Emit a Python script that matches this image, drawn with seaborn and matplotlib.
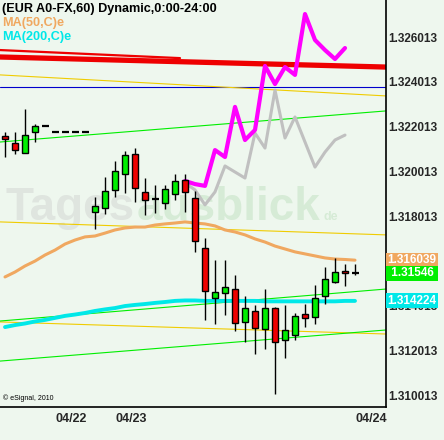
import matplotlib
matplotlib.use("Agg")
import matplotlib.pyplot as plt
import seaborn as sns

# hourly candles, index 0..35
bars = list(range(36))
opens = [1.32159, 1.32128, 1.32083, 1.32177, 1.32204, 1.32177, 1.32177, 1.32177, 1.32177,
         1.31819, 1.31837, 1.31918, 1.31989, 1.32079, 1.31909, 1.31877, 1.31860, 1.31900,
         1.31962, 1.31882, 1.31658, 1.31435, 1.31457, 1.31475, 1.31328, 1.31377, 1.31296,
         1.31390, 1.31247, 1.31270, 1.31363, 1.31350, 1.31444, 1.31506, 1.31556, 1.31546]
highs = [1.32177, 1.32177, 1.32280, 1.32213, 1.32204, 1.32177, 1.32177, 1.32177, 1.32177,
         1.31886, 1.31976, 1.32047, 1.32092, 1.32105, 1.31971, 1.31940, 1.31940, 1.31989,
         1.31989, 1.31913, 1.31703, 1.31605, 1.31605, 1.31538, 1.31444, 1.31404, 1.31475,
         1.31395, 1.31404, 1.31368, 1.31408, 1.31493, 1.31574, 1.31614, 1.31587, 1.31587]
lows = [1.32065, 1.32079, 1.32083, 1.32132, 1.32204, 1.32177, 1.32177, 1.32177, 1.32177,
        1.31743, 1.31810, 1.31886, 1.31904, 1.31864, 1.31806, 1.31815, 1.31833, 1.31873,
        1.31819, 1.31641, 1.31337, 1.31319, 1.31359, 1.31288, 1.31238, 1.31185, 1.31207,
        1.31006, 1.31167, 1.31247, 1.31305, 1.31319, 1.31408, 1.31502, 1.31489, 1.31538]
closes = [1.32146, 1.32096, 1.32163, 1.32204, 1.32204, 1.32177, 1.32177, 1.32177, 1.32177,
          1.31846, 1.31913, 1.32003, 1.32074, 1.31927, 1.31873, 1.31877, 1.31922, 1.31958,
          1.31909, 1.31690, 1.31466, 1.31462, 1.31484, 1.31323, 1.31390, 1.31301, 1.31390,
          1.31238, 1.31292, 1.31355, 1.31346, 1.31435, 1.31520, 1.31551, 1.31547, 1.31546]

ma50 = [1.31529, 1.31551, 1.31578, 1.31600, 1.31627, 1.31649, 1.31676, 1.31694, 1.31708,
        1.31712, 1.31725, 1.31739, 1.31748, 1.31752, 1.31752, 1.31761, 1.31766, 1.31770,
        1.31775, 1.31770, 1.31766, 1.31757, 1.31739, 1.31730, 1.31717, 1.31699, 1.31685,
        1.31667, 1.31654, 1.31641, 1.31632, 1.31623, 1.31614, 1.31609, 1.31607, 1.31604]
ma200 = [1.31305, 1.31314, 1.31321, 1.31330, 1.31337, 1.31346, 1.31355, 1.31361, 1.31368,
         1.31377, 1.31384, 1.31390, 1.31399, 1.31404, 1.31408, 1.31413, 1.31417, 1.31422,
         1.31424, 1.31424, 1.31422, 1.31422, 1.31422, 1.31422, 1.31422, 1.31422, 1.31420,
         1.31420, 1.31420, 1.31420, 1.31420, 1.31420, 1.31420, 1.31420, 1.31422, 1.31422]

# pattern projections
proj_bars = list(range(18, 35))
proj_magenta = [1.31958, 1.31944, 1.31936, 1.32096, 1.32065, 1.32289, 1.32141, 1.32186, 1.32472,
                1.32391, 1.32467, 1.32432, 1.32704, 1.32588, 1.32543, 1.32503, 1.32552]
proj_gray = [1.31949, 1.31918, 1.31851, 1.31909, 1.32025, 1.31998, 1.31971, 1.32172, 1.32105,
             1.32364, 1.32150, 1.32244, 1.32132, 1.32020, 1.32087, 1.32141, 1.32163]

# trend lines (price at left edge / right edge)
edge_x = [-0.5, 38.1]
red_thin_x = [-0.5, 17.5]
red_thin = [1.32543, 1.32507]
red_thick = [1.32512, 1.32467]
blue_level = [1.32378, 1.32378]
yellow_up = [1.32432, 1.32338]
yellow_mid = [1.31775, 1.31717]
yellow_low = [1.31328, 1.31274]
green_up = [1.32132, 1.32271]
green_mid = [1.31332, 1.31475]
green_low = [1.31153, 1.31292]

date_ticks = [5, 11, 35]
date_labels = ['04/22', '04/23', '04/24']
price_ticks = [1.310013, 1.312013, 1.314013, 1.316013, 1.318013,
               1.320013, 1.322013, 1.324013, 1.326013]
last_ma50 = 1.316039
last_close = 1.31546
last_ma200 = 1.314224

bg = '#eef7ee'
sns.set_style('white', rc={'axes.facecolor': bg, 'figure.facecolor': bg})
plt.rcParams['font.family'] = ['Liberation Sans', 'DejaVu Sans']

fig = plt.figure(figsize=(4.44, 4.40), dpi=100)
ax = fig.add_axes([0, 33 / 440, 386 / 444, 407 / 440])

thin = 0.8
sns.lineplot(x=red_thin_x, y=red_thin, ax=ax, color='#ee0000', linewidth=1.6)
sns.lineplot(x=edge_x, y=red_thick, ax=ax, color='#ee0000', linewidth=3.8)
sns.lineplot(x=edge_x, y=blue_level, ax=ax, color='#0000cc', linewidth=thin)
for vals in [yellow_up, yellow_mid, yellow_low]:
    sns.lineplot(x=edge_x, y=vals, ax=ax, color='#f0cc00', linewidth=thin)
for vals in [green_up, green_mid, green_low]:
    sns.lineplot(x=edge_x, y=vals, ax=ax, color='#00ee00', linewidth=thin)

sns.lineplot(x=bars, y=ma50, ax=ax, color='#f0a860', linewidth=2.2)
sns.lineplot(x=bars, y=ma200, ax=ax, color='#00e8e8', linewidth=2.8)
sns.lineplot(x=proj_bars, y=proj_gray, ax=ax, color='#c0c0c0', linewidth=2.2)
sns.lineplot(x=proj_bars, y=proj_magenta, ax=ax, color='#ff00ff', linewidth=3.0)

# candles
for i, o, h, l, c in zip(bars, opens, highs, lows, closes):
    ax.vlines(i, l, h, color='black', linewidth=1.0, zorder=4)
    if o == c:
        ax.hlines(c, i - 0.35, i + 0.35, color='black', linewidth=1.6, zorder=5)
    else:
        col = '#00ee00' if c > o else '#ee0000'
        ax.bar(i, abs(c - o), bottom=min(o, c), width=0.55, color=col,
               edgecolor='black', linewidth=1.0, zorder=5)

ax.set_xlim(-0.5, 38.1)
ax.set_ylim(1.309478, 1.327667)
ax.set_xticks(date_ticks)
ax.set_xticklabels(date_labels)
plt.setp(ax.get_xticklabels(), ha='left')
ax.yaxis.tick_right()
ax.set_yticks(price_ticks)
ax.set_yticklabels(['{:.6f}'.format(p) for p in price_ticks])
ax.tick_params(axis='y', length=0, pad=1.5, labelsize=8.5)
ax.tick_params(axis='x', direction='in', length=3, width=1, pad=4, labelsize=9)
for lab in ax.get_xticklabels() + ax.get_yticklabels():
    lab.set_fontweight('bold')
ax.set_xlabel('')
ax.set_ylabel('')
for side in ['left', 'top']:
    ax.spines[side].set_visible(False)
for side in ['right', 'bottom']:
    ax.spines[side].set_color('black')
    ax.spines[side].set_linewidth(1.2)

# watermark, pieces placed one after another
renderer = fig.canvas.get_renderer()
wm_y = 187 / 407
x0 = 5 / 386
for word, size, col in [('Tages', 33, '#dfe5df'), ('ausblick', 33, '#d6ebd6'), ('de', 9, '#d6ebd6')]:
    t = ax.text(x0, wm_y, word, transform=ax.transAxes, fontsize=size, fontweight='bold',
                color=col, va='baseline', ha='left', zorder=0)
    bb = t.get_window_extent(renderer=renderer).transformed(ax.transAxes.inverted())
    x0 = bb.x1 + 3 / 386

# last value tags
tr = ax.get_yaxis_transform()
for val, txt, col in [(last_ma50, '1.316039', '#f0a860'), (last_close, ' 1.31546 ', '#00ee00'),
                      (last_ma200, '1.314224', '#00e8e8')]:
    ax.text(1.004, val, txt, transform=tr, ha='left', va='center', color='white', fontsize=8.5,
            fontweight='bold', zorder=10, clip_on=False,
            bbox=dict(boxstyle='square,pad=0.12', fc=col, ec='none'))

# header texts
fig.text(2 / 444, 1 - 9 / 440, '(EUR A0-FX,60) Dynamic,0:00-24:00', fontsize=9.1,
         fontweight='bold', color='black', va='center', ha='left')
fig.text(2 / 444, 1 - 23 / 440, 'MA(50,C)e', fontsize=9.1, fontweight='bold',
         color='#f0a860', va='center', ha='left')
fig.text(2 / 444, 1 - 37 / 440, 'MA(200,C)e', fontsize=9.1, fontweight='bold',
         color='#00e8e8', va='center', ha='left')
ax.text(3 / 386, 9 / 407, '\u00a9 eSignal, 2010', transform=ax.transAxes, fontsize=5,
        color='black', va='center', ha='left')

fig.savefig('out.png', dpi=100, facecolor=bg)
